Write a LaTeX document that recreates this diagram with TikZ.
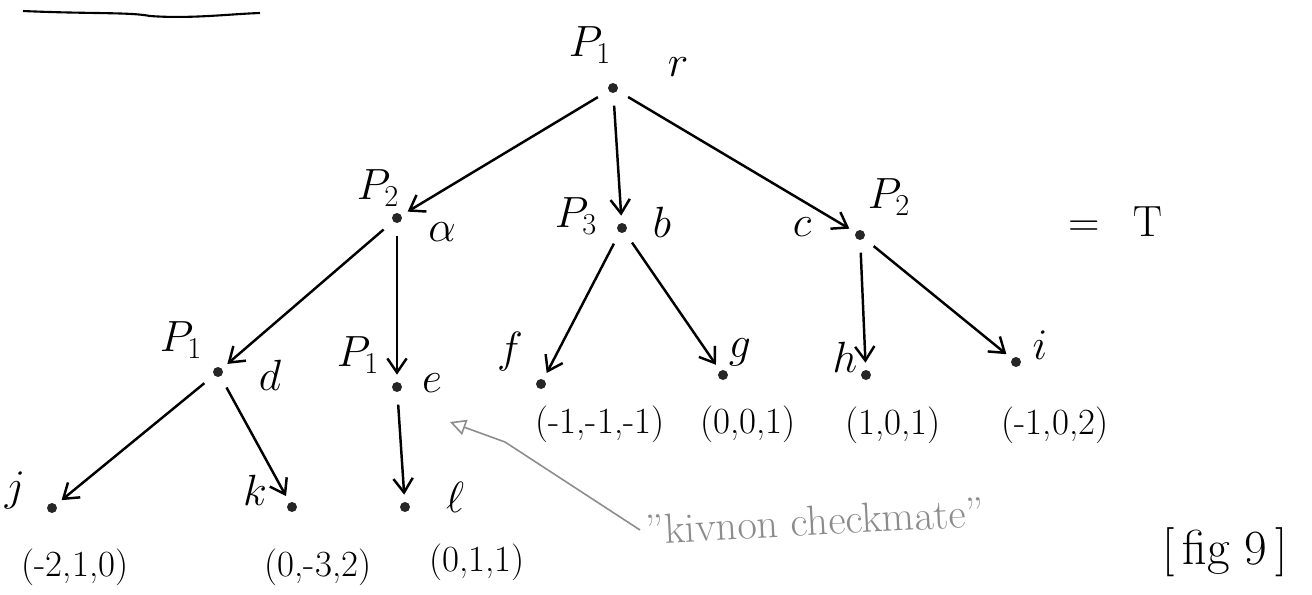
\documentclass[tikz,border=0pt]{standalone}
\usepackage{amsmath,amssymb}
\usepackage{tikz}
\usetikzlibrary{arrows.meta}
\usepackage{xcolor}

\definecolor{pencil}{gray}{0.55}

\begin{document}
\begin{tikzpicture}[x=0.02cm,y=-0.02cm]
	\tikzset{
		pt/.style={circle, fill=black!85, inner sep=0pt, minimum size=0.2cm},
		move/.style={-{Straight Barb[length=8pt,width=11pt]}, line width=1.4pt, shorten <=7pt, shorten >=4pt},
		lab/.style={font=\fontsize{25}{27}\selectfont},
		pay/.style={font=\fontsize{21}{23}\selectfont},
		remark/.style={pencil, line width=0.9pt}
	}
	\useasboundingbox (0,0) rectangle (1312,595);
	% underline of the cut-off heading
	\draw[line width=1.2pt] (23,11) .. controls (90,14) and (130,12) .. (150,16) .. controls (190,19) and (230,14) .. (260,13);
	% positions
	\foreach \n/\x/\y in {r/613/88, a/397/218, b/622/228, c/860/235,
		d/218/372, e/397/387, f/541/384, g/723/375, h/866/375, i/1016/362,
		j/52/508, k/292/507, l/405/507}
		\node[pt] (\n) at (\x,\y) {};
	\foreach \s/\t in {r/a, r/b, r/c, a/d, a/e, b/f, b/g, c/h, c/i, d/j, d/k, e/l}
		\draw[move] (\s) -- (\t);
	% players and names
	\foreach \n/\x/\y/\t in {pr/590/45/$P_1$, nr/678/67/$r$,
		pa/378/188/$P_2$, na/442/232/$\alpha$,
		pb/576/216/$P_3$, nb/662/222/$b$,
		pc/889/197/$P_2$, nc/802/227/$c$,
		pd/181/340/$P_1$, nd/270/375/$d$,
		pe/358/355/$P_1$, ne/432/383/$e$,
		nf/510/352/$f$, ng/740/352/$g$, nh/845/357/$h$, ni/1040/345/$i$,
		nj/15/490/$j$, nk/255/490/$k$, nl/455/497/$\ell$}
		\node[lab] (\n) at (\x,\y) {\t};
	% payoffs
	\foreach \n/\x/\y/\t in {uf/600/424/{(-1,-1,-1)}, ug/748/424/{(0,0,1)},
		uh/893/425/{(1,0,1)}, ui/1055/425/{(-1,0,2)},
		uj/75/567/{(-2,1,0)}, uk/318/567/{(0,-3,2)}, ul/477/562/{(0,1,1)}}
		\node[pay] (\n) at (\x,\y) {\t};
	\node[font=\fontsize{40}{44}\selectfont] (eqT) at (1115,222) {$=\ \mathrm{T}$};
	\node[font=\fontsize{28}{30}\selectfont] (fig) at (1225,552) {[\,fig 9\,]};
	% remark
	\node[pencil, font=\fontsize{24}{26}\selectfont, rotate=3, anchor=west] (note) at (640,530) {''kivnon checkmate''};
	\coordinate (mark) at (450,422);
	\draw[remark, -{Triangle[open,length=9pt,width=9pt]}] (note.west) -- (505,442) -- (mark);
\end{tikzpicture}
\end{document}
